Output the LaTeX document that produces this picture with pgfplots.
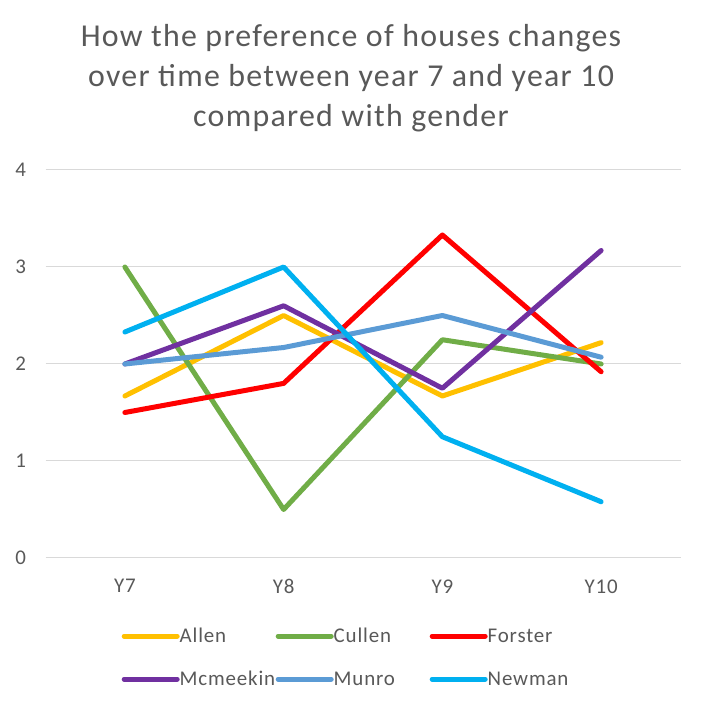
\documentclass[border=0pt]{standalone}
\usepackage{pgfplots}
\pgfplotsset{compat=1.18}
\usepackage{fontspec}
\setmainfont{Carlito}[LetterSpace=4]
\definecolor{txt}{HTML}{595959}
\definecolor{gridc}{HTML}{D9D9D9}
\definecolor{allen}{HTML}{FFC000}
\definecolor{cullen}{HTML}{70AD47}
\definecolor{forster}{HTML}{FF0000}
\definecolor{mcmeekin}{HTML}{7030A0}
\definecolor{munro}{HTML}{5B9BD5}
\definecolor{newman}{HTML}{00B0F0}
\begin{document}
\begin{tikzpicture}[x=1bp,y=1bp]
\useasboundingbox (0,0) rectangle (702,708);
\node[align=center, text=txt, font=\fontsize{32}{40}\selectfont] at (351,630)
  {How the preference of houses changes\\over time between year 7 and year 10\\compared with gender};
\begin{axis}[
    at={(45.5bp,150bp)}, anchor=south west,
    scale only axis, width=635bp, height=388bp,
    xmin=-0.5, xmax=3.5, ymin=0, ymax=4,
    xtick={0,1,2,3}, xticklabels={Y7,Y8,Y9,Y10},
    ytick={0,1,2,3,4},
    ymajorgrids, major grid style={draw=gridc, line width=1bp},
    axis line style={draw=none}, tick style={draw=none},
    /pgf/number format/assume math mode=true,
    ticklabel style={font=\fontsize{21}{24}\selectfont, text=txt},
    xticklabel style={yshift=-18bp},
    yticklabel style={xshift=-16bp},
    every axis plot/.append style={line width=5bp, line join=round, line cap=round},
    legend style={at={(0.483,-0.175)}, anchor=north, draw=none, legend columns=3,
      font=\fontsize{21}{24}\selectfont, text=txt,
      nodes={text width=95bp, align=left, inner sep=0pt},
      row sep=27bp,
      /tikz/every even column/.append style={column sep=1bp}},
    legend image code/.code={\draw[#1, line width=5bp, line cap=round] (0bp,0bp) -- (53bp,0bp);},
  ]
\addplot[allen] coordinates {(0,1.67) (1,2.5) (2,1.67) (3,2.22)};
\addplot[cullen] coordinates {(0,3.0) (1,0.5) (2,2.25) (3,2.0)};
\addplot[forster] coordinates {(0,1.5) (1,1.8) (2,3.33) (3,1.92)};
\addplot[mcmeekin] coordinates {(0,2.0) (1,2.6) (2,1.75) (3,3.17)};
\addplot[munro] coordinates {(0,2.0) (1,2.17) (2,2.5) (3,2.07)};
\addplot[newman] coordinates {(0,2.33) (1,3.0) (2,1.25) (3,0.58)};
\legend{Allen,Cullen,Forster,Mcmeekin,Munro,Newman}
\end{axis}
\end{tikzpicture}
\end{document}
